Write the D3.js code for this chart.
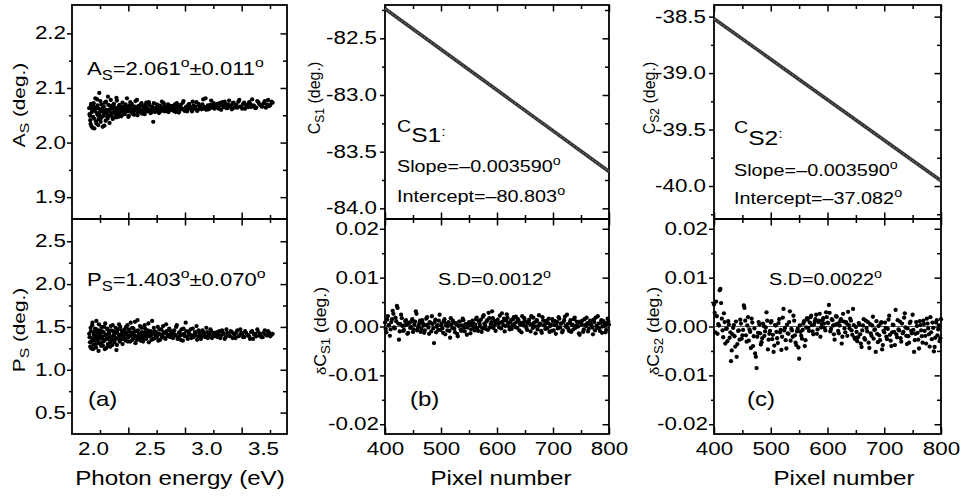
<!DOCTYPE html>
<html><head><meta charset="utf-8">
<script src="https://cdn.jsdelivr.net/npm/d3@7"></script>
<style>
body{margin:0;background:#fff}
svg{display:block}
text{font-family:"Liberation Sans",Arial,Helvetica,sans-serif;fill:#000}
</style>
</head><body>
<svg id="chart" width="961" height="500"></svg>
<script>
// ---------------- DATA ----------------
const photonEnergy = [1.908,1.914,1.920,1.925,1.931,1.938,1.944,1.950,1.956,1.962,1.968,1.975,1.981,1.987,1.994,2.000,2.006,2.013,2.020,2.026,2.033,2.039,2.046,2.053,2.060,2.067,2.074,2.081,2.088,2.095,2.102,2.109,2.116,2.123,2.131,2.138,2.145,2.153,2.160,2.168,2.175,2.183,2.191,2.199,2.206,2.214,2.222,2.230,2.238,2.246,2.255,2.263,2.271,2.279,2.288,2.296,2.305,2.313,2.322,2.331,2.340,2.348,2.357,2.366,2.375,2.385,2.394,2.403,2.412,2.422,2.431,2.441,2.451,2.460,2.470,2.480,2.490,2.500,2.510,2.520,2.531,2.541,2.551,2.562,2.573,2.583,2.594,2.605,2.616,2.627,2.638,2.650,2.661,2.672,2.684,2.696,2.707,2.719,2.731,2.743,2.756,2.768,2.780,2.793,2.805,2.818,2.831,2.844,2.857,2.870,2.884,2.897,2.911,2.925,2.938,2.952,2.967,2.981,2.995,3.010,3.024,3.039,3.054,3.069,3.085,3.100,3.116,3.131,3.147,3.163,3.179,3.196,3.212,3.229,3.246,3.263,3.280,3.298,3.316,3.333,3.351,3.370,3.388,3.407,3.425,3.444,3.464,3.483,3.503,3.523];
const photonEnergyB = [1.905,1.911,1.917,1.922,1.928,1.934,1.941,1.947,1.953,1.959,1.965,1.971,1.978,1.984,1.990,1.997,2.003,2.010,2.016,2.023,2.029,2.036,2.043,2.050,2.056,2.063,2.070,2.077,2.084,2.091,2.098,2.105,2.112,2.120,2.127,2.134,2.142,2.149,2.157,2.164,2.172,2.179,2.187,2.195,2.202,2.210,2.218,2.226,2.234,2.242,2.250,2.259,2.267,2.275,2.284,2.292,2.301,2.309,2.318,2.326,2.335,2.344,2.353,2.362,2.371,2.380,2.389,2.398,2.408,2.417,2.427,2.436,2.446,2.455,2.465,2.475,2.485,2.495,2.505,2.515,2.525,2.536,2.546,2.557,2.567,2.578,2.589,2.600,2.611,2.622,2.633,2.644,2.655,2.667,2.678,2.690,2.702,2.713,2.725,2.737,2.749,2.762,2.774,2.787,2.799,2.812,2.825,2.838,2.851,2.864,2.877,2.890,2.904,2.918,2.931,2.945,2.959,2.974,2.988,3.002,3.017,3.032,3.047,3.062,3.077,3.092,3.108,3.123,3.139,3.155,3.171,3.188,3.204,3.221,3.238,3.255,3.272,3.289,3.307,3.324,3.342,3.360,3.379,3.397,3.416,3.435,3.454,3.473,3.493,3.513];
const asValues = [2.052,2.041,2.068,2.030,2.061,2.047,2.072,2.026,2.058,2.064,2.035,2.079,2.050,2.043,2.091,2.056,2.038,2.070,2.062,2.048,2.066,2.031,2.057,2.075,2.053,2.044,2.069,2.060,2.049,2.078,2.055,2.063,2.046,2.071,2.058,2.052,2.082,2.061,2.047,2.067,2.056,2.064,2.050,2.073,2.059,
2.054,2.066,2.062,2.081,2.057,2.049,2.068,2.060,2.071,2.053,2.064,2.058,2.076,2.061,2.050,2.067,2.063,2.056,2.072,2.059,2.065,2.052,2.069,2.062,2.057,2.074,2.060,2.055,2.066,2.038,2.063,2.058,2.070,2.061,2.054,2.067,2.064,2.059,2.072,2.057,2.062,2.068,2.056,2.065,2.060,
2.063,2.058,2.070,2.061,2.066,2.055,2.068,2.062,2.073,2.059,2.064,2.057,2.069,2.063,2.060,2.075,2.062,2.066,2.058,2.071,2.064,2.061,2.079,2.065,2.060,2.068,2.063,2.077,2.066,2.062,
2.069,2.064,2.072,2.060,2.067,2.075,2.063,2.070,2.066,2.061,2.073,2.068,2.064,2.078,2.066,2.071,2.062,2.069,2.074,2.065,2.068,2.063,2.076,2.070,2.066,2.072,2.064,2.078,2.069,2.073];
const asValuesB = [2.063,2.049,2.034,2.071,2.056,2.027,2.066,2.044,2.059,2.081,2.039,2.054,2.068,2.032,2.062,2.050,2.076,2.045,2.058,2.029,2.065,2.053,2.073,2.040,2.060,2.048,2.084,2.057,2.036,2.067,2.051,2.062,2.043,2.070,2.055,2.064,2.046,2.077,2.058,2.053,2.069,2.061,2.048,2.066,2.057,
2.061,2.052,2.070,2.058,2.065,2.047,2.063,2.074,2.056,2.068,2.060,2.051,2.066,2.062,2.078,2.055,2.064,2.059,2.070,2.053,2.067,2.061,2.057,2.073,2.063,2.058,2.069,2.054,2.065,2.061,2.072,2.056,2.063,2.059,2.068,2.062,2.057,2.075,2.060,2.066,2.063,2.058,2.070,2.061,2.067,
2.060,2.067,2.063,2.056,2.072,2.064,2.059,2.069,2.062,2.076,2.058,2.066,2.061,2.071,2.065,2.057,2.068,2.063,2.074,2.060,2.067,2.064,2.070,2.062,2.081,2.065,2.061,2.069,2.064,2.072,
2.066,2.071,2.062,2.068,2.074,2.065,2.070,2.063,2.077,2.067,2.072,2.064,2.069,2.075,2.066,2.062,2.073,2.068,2.065,2.071,2.079,2.067,2.064,2.074,2.069,2.066,2.076,2.070,2.067,2.075];
const psValues = [1.38,1.27,1.45,1.33,1.52,1.24,1.41,1.36,1.48,1.30,1.57,1.35,1.43,1.22,1.39,1.46,1.31,1.50,1.37,1.28,1.44,1.34,1.54,1.40,1.26,1.47,1.36,1.42,1.32,1.51,1.38,1.29,1.45,1.41,1.35,1.49,1.23,1.43,1.37,1.53,1.33,1.40,1.46,1.30,1.39,
1.44,1.36,1.50,1.41,1.33,1.47,1.39,1.55,1.43,1.35,1.48,1.40,1.31,1.45,1.58,1.38,1.42,1.34,1.49,1.41,1.37,1.52,1.44,1.39,1.46,1.32,1.43,1.40,1.57,1.36,1.45,1.41,1.38,1.50,1.42,1.35,1.47,1.40,1.44,1.37,1.53,1.41,1.39,1.46,1.42,
1.38,1.45,1.41,1.50,1.36,1.43,1.40,1.47,1.34,1.42,1.55,1.39,1.44,1.41,1.37,1.48,1.40,1.43,1.35,1.46,1.41,1.38,1.44,1.40,1.49,1.37,1.42,1.45,1.39,1.43,
1.41,1.38,1.45,1.40,1.43,1.36,1.47,1.41,1.39,1.44,1.42,1.37,1.46,1.40,1.43,1.38,1.45,1.41,1.39,1.44,1.36,1.42,1.47,1.40,1.38,1.43,1.41,1.45,1.39,1.42];
const psValuesB = [1.42,1.32,1.49,1.25,1.37,1.55,1.29,1.44,1.34,1.40,1.26,1.47,1.38,1.31,1.53,1.36,1.42,1.28,1.45,1.39,1.33,1.50,1.24,1.41,1.36,1.48,1.30,1.43,1.38,1.27,1.46,1.35,1.52,1.40,1.32,1.44,1.37,1.29,1.47,1.41,1.34,1.50,1.38,1.43,1.36,
1.40,1.47,1.34,1.43,1.52,1.38,1.45,1.33,1.41,1.49,1.37,1.44,1.56,1.39,1.35,1.46,1.42,1.51,1.38,1.44,1.33,1.40,1.48,1.36,1.43,1.54,1.39,1.45,1.35,1.42,1.49,1.37,1.44,1.40,1.34,1.47,1.41,1.38,1.51,1.43,1.36,1.45,1.40,1.48,1.38,
1.43,1.37,1.46,1.40,1.52,1.38,1.44,1.35,1.41,1.48,1.39,1.45,1.36,1.42,1.47,1.40,1.38,1.44,1.51,1.39,1.43,1.36,1.46,1.41,1.38,1.44,1.40,1.47,1.37,1.42,
1.39,1.44,1.41,1.37,1.46,1.42,1.38,1.43,1.40,1.45,1.37,1.41,1.44,1.39,1.47,1.42,1.38,1.43,1.40,1.36,1.45,1.41,1.39,1.44,1.42,1.38,1.46,1.40,1.43,1.41];
const pixelNumbers = d3.range(400, 800.01, 2.5);
const pixelNumbersB = d3.range(401.25, 800, 2.5);
const dCs1 = [0.0008,-0.0012,0.0021,0.0003,-0.0006,0.0015,0.0026,-0.0004,0.0011,0.0038,-0.0027,0.0005,0.0017,-0.0009,0.0002,0.0013,-0.0015,0.0006,-0.0003,0.0010,-0.0011,
0.0004,0.0031,-0.0008,0.0001,0.0012,-0.0005,0.0007,-0.0013,0.0003,0.0019,-0.0002,0.0009,-0.0010,0.0005,-0.0034,0.0014,0.0000,-0.0007,0.0024,0.0002,
-0.0004,0.0011,-0.0016,0.0006,0.0001,-0.0009,0.0017,-0.0003,0.0008,-0.0012,0.0004,-0.0020,0.0010,-0.0006,0.0002,0.0013,-0.0010,0.0005,-0.0002,0.0009,
-0.0014,0.0003,0.0007,-0.0008,0.0015,-0.0003,0.0011,0.0001,-0.0011,0.0020,0.0006,-0.0005,0.0013,0.0028,-0.0002,0.0009,0.0017,0.0003,-0.0009,0.0012,
0.0005,0.0022,-0.0004,0.0010,0.0016,0.0001,0.0025,0.0007,-0.0006,0.0013,0.0003,0.0019,-0.0001,0.0009,0.0015,-0.0008,0.0006,0.0021,0.0002,0.0011,
-0.0003,0.0008,0.0014,-0.0010,0.0004,0.0018,0.0000,0.0010,-0.0006,0.0023,0.0005,-0.0013,0.0012,0.0002,0.0007,-0.0004,0.0016,0.0001,-0.0009,0.0011,
0.0003,-0.0015,0.0009,0.0019,-0.0002,0.0006,-0.0008,0.0013,0.0001,0.0024,-0.0005,0.0008,-0.0011,0.0004,0.0015,-0.0003,0.0010,0.0000,-0.0017,0.0007,
0.0012,-0.0006,0.0003,0.0018,-0.0010,0.0005,0.0009,-0.0002,0.0014,-0.0008,0.0001,0.0021,-0.0004,0.0007,-0.0013,0.0011,0.0002,-0.0007,0.0016,0.0004];
const dCs1B = [-0.0005,0.0014,0.0002,-0.0019,0.0009,0.0032,-0.0002,0.0018,0.0042,0.0006,-0.0010,0.0024,0.0001,-0.0007,0.0011,0.0004,-0.0013,0.0008,-0.0001,0.0015,
-0.0006,0.0010,0.0026,-0.0003,0.0006,-0.0011,0.0013,0.0002,-0.0008,0.0016,0.0004,-0.0015,0.0007,0.0021,-0.0004,0.0009,-0.0012,0.0003,0.0012,-0.0007,
0.0006,-0.0013,0.0015,0.0002,-0.0008,0.0009,-0.0023,0.0004,0.0012,-0.0005,0.0007,-0.0015,0.0001,0.0010,-0.0009,0.0016,-0.0003,0.0005,-0.0017,0.0003,
0.0008,-0.0006,0.0012,-0.0002,0.0004,0.0018,-0.0009,0.0007,0.0014,-0.0004,0.0023,0.0002,0.0010,-0.0007,0.0017,0.0005,0.0031,-0.0003,0.0011,0.0006,
0.0014,-0.0002,0.0008,0.0027,0.0003,-0.0010,0.0012,0.0018,0.0000,0.0009,-0.0005,0.0015,0.0006,0.0020,-0.0003,0.0011,0.0004,-0.0012,0.0008,0.0017,
0.0002,-0.0007,0.0010,0.0005,0.0021,-0.0003,0.0008,-0.0014,0.0013,0.0001,0.0006,-0.0009,0.0019,0.0003,-0.0005,0.0012,0.0007,-0.0011,0.0004,0.0015,
-0.0008,0.0011,0.0002,-0.0004,0.0016,0.0006,-0.0012,0.0009,0.0020,-0.0001,0.0005,-0.0009,0.0013,0.0003,-0.0006,0.0018,0.0001,0.0008,-0.0014,0.0010,
0.0004,-0.0011,0.0015,0.0001,0.0007,-0.0005,0.0012,0.0003,-0.0016,0.0009,0.0018,-0.0002,0.0006,-0.0009,0.0013,0.0000,0.0008,-0.0012,0.0005,0.0010];
const dCs2 = [0.0045,-0.0012,0.0021,0.0005,0.0074,0.0048,-0.0008,0.0027,-0.0035,-0.0004,0.0011,-0.0023,-0.0071,-0.0016,0.0003,-0.0041,-0.0062,-0.0009,-0.0027,0.0006,-0.0018,
0.0043,0.0012,-0.0031,0.0019,-0.0006,-0.0044,0.0008,-0.0020,-0.0055,-0.0085,-0.0013,0.0004,-0.0037,-0.0024,0.0001,-0.0010,0.0029,-0.0047,-0.0015,0.0008,
-0.0026,-0.0052,0.0003,-0.0011,-0.0034,0.0015,-0.0007,-0.0021,0.0036,-0.0003,-0.0045,-0.0014,0.0009,-0.0029,-0.0008,0.0022,-0.0018,-0.0038,-0.0005,-0.0066,
-0.0011,-0.0025,0.0006,-0.0040,-0.0002,0.0014,-0.0009,0.0019,0.0003,-0.0016,0.0010,0.0024,-0.0006,0.0012,-0.0021,0.0005,0.0017,-0.0003,0.0029,0.0008,
0.0044,-0.0010,0.0015,0.0002,-0.0027,0.0021,0.0006,-0.0014,0.0011,-0.0035,0.0026,-0.0004,0.0009,-0.0019,0.0003,0.0016,-0.0008,0.0036,-0.0023,-0.0001,
-0.0030,0.0007,-0.0016,-0.0042,0.0002,-0.0024,0.0012,-0.0010,-0.0033,0.0005,-0.0019,0.0020,-0.0007,-0.0052,-0.0015,0.0001,-0.0028,0.0009,-0.0038,-0.0012,
-0.0003,-0.0026,0.0014,-0.0017,-0.0040,0.0004,-0.0011,0.0034,-0.0022,-0.0006,0.0010,-0.0031,-0.0014,0.0018,-0.0002,-0.0036,-0.0020,0.0007,-0.0009,0.0024,
-0.0052,-0.0015,0.0001,-0.0027,0.0011,-0.0008,-0.0033,0.0005,-0.0019,0.0016,-0.0004,-0.0041,-0.0012,0.0008,-0.0051,-0.0023,0.0013,-0.0006,-0.0030,0.0015];
const dCs2B = [0.0028,0.0051,-0.0015,0.0002,0.0077,0.0016,-0.0022,0.0009,-0.0005,-0.0030,0.0004,-0.0012,-0.0049,-0.0003,-0.0020,0.0010,-0.0036,-0.0008,0.0014,-0.0025,
-0.0007,0.0038,-0.0018,0.0002,-0.0029,-0.0011,0.0016,-0.0040,-0.0004,-0.0062,-0.0021,0.0009,-0.0014,-0.0032,0.0006,-0.0019,-0.0002,0.0012,-0.0027,-0.0009,
0.0011,-0.0017,-0.0039,0.0002,-0.0024,0.0007,-0.0012,-0.0048,0.0018,-0.0008,-0.0028,0.0004,-0.0015,0.0031,-0.0005,-0.0021,0.0012,-0.0033,-0.0010,-0.0043,
0.0002,-0.0019,-0.0007,0.0011,-0.0028,0.0017,-0.0003,0.0008,0.0022,-0.0010,0.0004,0.0015,-0.0015,0.0009,0.0026,-0.0002,0.0013,0.0006,-0.0008,0.0019,
0.0007,0.0028,-0.0005,0.0013,-0.0016,0.0004,0.0020,-0.0009,0.0002,0.0015,-0.0021,0.0010,-0.0012,0.0006,0.0030,-0.0004,0.0012,-0.0017,0.0003,-0.0026,
-0.0011,-0.0022,0.0004,-0.0035,-0.0008,0.0015,-0.0027,-0.0003,0.0009,-0.0044,-0.0014,0.0002,-0.0025,-0.0006,0.0011,-0.0032,-0.0018,0.0006,-0.0047,-0.0009,
0.0008,-0.0021,-0.0005,0.0022,-0.0029,-0.0012,0.0003,-0.0038,-0.0016,0.0013,-0.0008,-0.0024,0.0006,-0.0011,0.0027,-0.0019,-0.0004,-0.0033,0.0010,-0.0014,
-0.0007,-0.0028,0.0009,-0.0013,-0.0045,0.0003,-0.0020,0.0012,-0.0009,-0.0035,0.0006,-0.0016,0.0019,-0.0026,-0.0003,-0.0042,0.0008,-0.0018,0.0002,-0.0024];
const fitPixels = [400, 800];
const cs1Fit = [-82.239, -83.675];
const cs2Fit = [-38.518, -39.954];
const zeroLine = [0, 0];

// tick values
const asTicks = [1.9, 2.0, 2.1, 2.2], asMinor = [1.95, 2.05, 2.15];
const psTicks = [0.5, 1.0, 1.5, 2.0, 2.5], psMinor = [0.75, 1.25, 1.75, 2.25];
const energyLabelTicks = [2.0, 2.5, 3.0, 3.5], energyLongTicks = [2.25, 2.75, 3.25];
const cs1Ticks = [-84, -83.5, -83, -82.5], cs1Minor = [-83.75, -83.25, -82.75, -82.25];
const cs2Ticks = [-40, -39.5, -39, -38.5], cs2Minor = [-40.25, -39.75, -39.25, -38.75];
const dTicks = [-0.02, -0.01, 0, 0.01, 0.02], dMinor = [-0.015, -0.005, 0.005, 0.015];
const pixelTicks = [400, 500, 600, 700, 800], pixelMinor = [450, 550, 650, 750];

// ---------------- LAYOUT ----------------
const svg = d3.select("#chart");
const loc = d3.formatLocale({decimal: ".", thousands: ",", grouping: [3], currency: ["", ""], minus: "-"});
const f1 = loc.format(".1f"), f2 = loc.format(".2f");
const TOP = 5, MID = 219, BOT = 434;
const SX_TICK = 1.28, SX_TITLE = 1.24;
const DOT_R = 2.15;

function stretchTexts(sel, sx, size, dx) {
  sel.selectAll(".tick text").each(function () {
    const t = d3.select(this);
    const x = +t.attr("x") || 0;
    t.attr("x", (x + (dx || 0)) / sx).attr("transform", `scale(${sx},1)`)
     .attr("font-size", size).attr("font-family", null).attr("fill", "#000");
  });
}

function rich(parent, x, y, parts, size, sx, opts) {
  opts = opts || {};
  const rot = opts.rotate ? " rotate(-90)" : "";
  const t = parent.append("text")
    .attr("transform", `translate(${x},${y})${rot} scale(${sx},1)`)
    .attr("font-size", size)
    .attr("text-anchor", opts.anchor || "start");
  let prev = 0;
  parts.forEach(p => {
    const [str, k, shift] = p;
    t.append("tspan").attr("font-size", size * k).attr("dy", shift - prev).text(str);
    prev = shift;
  });
  return t;
}

function subPanel(o) {
  const g = svg.append("g");
  const {x, y, x0, x1, y0, y1} = o;
  const gl = g.append("g").attr("transform", `translate(${x0},0)`)
    .call(d3.axisLeft(y).tickValues(o.yMajor).tickSize(5).tickPadding(o.pad).tickFormat(o.fmt));
  stretchTexts(gl, SX_TICK, 17.5);
  g.append("g").attr("transform", `translate(${x0},0)`)
    .call(d3.axisLeft(y).tickValues(o.yMinor).tickSize(3).tickFormat(""));
  g.append("g").attr("transform", `translate(${x1},0)`)
    .call(d3.axisLeft(y).tickValues(o.yMajor).tickSize(6.5).tickFormat(""));
  g.append("g").attr("transform", `translate(${x1},0)`)
    .call(d3.axisLeft(y).tickValues(o.yMinor).tickSize(4).tickFormat(""));
  g.append("g").attr("transform", `translate(0,${y0})`)
    .call(d3.axisBottom(x).tickValues(o.xMajor).tickSize(6.5).tickFormat(""));
  g.append("g").attr("transform", `translate(0,${y0})`)
    .call(d3.axisBottom(x).tickValues(o.xMinor).tickSize(4).tickFormat(""));
  g.append("g").attr("transform", `translate(0,${y1})`)
    .call(d3.axisTop(x).tickValues(o.xMajor).tickSize(6.5).tickFormat(""));
  g.append("g").attr("transform", `translate(0,${y1})`)
    .call(d3.axisTop(x).tickValues(o.xMinor).tickSize(4).tickFormat(""));
  if (o.xLabels) {
    const gb = g.append("g").attr("transform", `translate(0,${y1})`)
      .call(d3.axisBottom(x).tickValues(o.xLabels).tickSize(0).tickPadding(9).tickFormat(o.xfmt));
    stretchTexts(gb, SX_TICK, 17.5, o.xLabelDx || 0);
    gb.selectAll(".tick line").remove();
  }
  g.selectAll(".domain").remove();
  g.selectAll(".tick line").attr("stroke", "#000").attr("stroke-width", 1.5);
  g.append("rect").attr("x", x0).attr("y", y0).attr("width", x1 - x0).attr("height", y1 - y0)
    .attr("fill", "none").attr("stroke", "#000").attr("stroke-width", 1.8);
  return g;
}

function dots(xs, ys, xScale, yScale) {
  svg.append("g").selectAll("circle").data(xs).join("circle")
    .attr("cx", d => xScale(d)).attr("cy", (d, i) => yScale(ys[i]))
    .attr("r", DOT_R).attr("fill", "#000");
}

// ---------------- PANEL (a) ----------------
const xE = d3.scaleLinear().domain([1.753, 3.65]).range([72, 287]);
const yA = d3.scaleLinear().domain([1.86, 2.252]).range([MID, TOP]);
const yP = d3.scaleLinear().domain([0.25, 2.76]).range([BOT, MID]);
subPanel({x: xE, y: yA, x0: 72, x1: 287, y0: TOP, y1: MID, yMajor: asTicks, yMinor: asMinor,
  xMajor: energyLongTicks, xMinor: energyLabelTicks, fmt: f1, pad: 1});
subPanel({x: xE, y: yP, x0: 72, x1: 287, y0: MID, y1: BOT, yMajor: psTicks, yMinor: psMinor,
  xMajor: energyLongTicks, xMinor: energyLabelTicks, fmt: f1, pad: 1,
  xLabels: energyLabelTicks, xfmt: f1, xLabelDx: -7});
dots(photonEnergy, asValues, xE, yA);
dots(photonEnergyB, asValuesB, xE, yA);
dots(photonEnergy, psValues, xE, yP);
dots(photonEnergyB, psValuesB, xE, yP);

// ---------------- PANELS (b), (c) ----------------
function pixelColumn(x0, x1, yTop, topTicks, topMinor, fit, resid, residB) {
  const xp = d3.scaleLinear().domain([400, 800]).range([x0, x1]);
  const yD = d3.scaleLinear().domain([-0.022, 0.022]).range([BOT, MID]);
  subPanel({x: xp, y: yTop, x0, x1, y0: TOP, y1: MID, yMajor: topTicks, yMinor: topMinor,
    xMajor: pixelTicks, xMinor: pixelMinor, fmt: f1, pad: 3});
  subPanel({x: xp, y: yD, x0, x1, y0: MID, y1: BOT, yMajor: dTicks, yMinor: dMinor,
    xMajor: pixelTicks, xMinor: pixelMinor, fmt: f2, pad: 1,
    xLabels: pixelTicks, xfmt: d3.format("d")});
  const line = d3.line().x((d, i) => xp(fitPixels[i])).y(d => yTop(d));
  svg.append("path").datum(fit).attr("d", line).attr("fill", "none")
    .attr("stroke", "#333").attr("stroke-width", 3.6);
  svg.append("path").datum(fit).attr("d", line).attr("fill", "none")
    .attr("stroke", "#8c8c8c").attr("stroke-width", 0.8).attr("stroke-dasharray", "2,2");
  const zl = d3.line().x((d, i) => xp(fitPixels[i])).y(d => yD(d));
  svg.append("path").datum(zeroLine).attr("d", zl).attr("fill", "none")
    .attr("stroke", "#555").attr("stroke-width", 1);
  dots(pixelNumbers, resid, xp, yD);
  dots(pixelNumbersB, residB, xp, yD);
}
const yC1 = d3.scaleLinear().domain([-84.094, -82.206]).range([MID, TOP]);
const yC2 = d3.scaleLinear().domain([-40.292, -38.397]).range([MID, TOP]);
pixelColumn(385, 609, yC1, cs1Ticks, cs1Minor, cs1Fit, dCs1, dCs1B);
pixelColumn(714, 941, yC2, cs2Ticks, cs2Minor, cs2Fit, dCs2, dCs2B);

// ---------------- TEXT ----------------
const T = svg.append("g");
rich(T, 87, 75, [["A",1,0],["S",0.75,5],["=2.061",1,0],["o",0.72,-8],["±0.011",1,0],["o",0.72,-8]], 19, 1.16);
rich(T, 87, 286, [["P",1,0],["S",0.75,5],["=1.403",1,0],["o",0.72,-8],["±0.070",1,0],["o",0.72,-8]], 19, 1.16);
rich(T, 88, 406, [["(a)",1,0]], 20, 1.2);
rich(T, 410, 406, [["(b)",1,0]], 20, 1.2);
rich(T, 747, 406, [["(c)",1,0]], 20, 1.2);

rich(T, 397, 141.5, [["C",0.8,-10],["S1",1,0],[":",0.65,-6]], 20.5, 1.2);
rich(T, 397, 172, [["Slope=–0.003590",1,0],["o",0.72,-7]], 16.5, 1.2);
rich(T, 397, 201.5, [["Intercept=–80.803",1,0],["o",0.72,-7]], 16.5, 1.2);
rich(T, 734, 145, [["C",0.8,-12],["S2",1,0],[":",0.65,-7]], 20.5, 1.2);
rich(T, 734, 175.5, [["Slope=–0.003590",1,0],["o",0.72,-7]], 16.5, 1.2);
rich(T, 734, 204, [["Intercept=–37.082",1,0],["o",0.72,-7]], 16.5, 1.2);

rich(T, 438, 285, [["S.D=0.0012",1,0],["o",0.72,-7]], 16.5, 1.2);
rich(T, 769, 285, [["S.D=0.0022",1,0],["o",0.72,-7]], 16.5, 1.2);

rich(T, 180, 485, [["Photon energy (eV)",1,0]], 19.5, SX_TITLE, {anchor: "middle"});
rich(T, 501, 485, [["Pixel number",1,0]], 19.5, SX_TITLE, {anchor: "middle"});
rich(T, 844, 485, [["Pixel number",1,0]], 19.5, SX_TITLE, {anchor: "middle"});

rich(T, 25, 105, [["A",1,0],["S",0.75,4],[" (deg.)",1,0]], 16, 1.3, {rotate: true, anchor: "middle"});
rich(T, 25, 330, [["P",1,0],["S",0.75,4],[" (deg.)",1,0]], 16, 1.3, {rotate: true, anchor: "middle"});
rich(T, 320, 98, [["C",1,0],["S1",0.75,4],[" (deg.)",1,0]], 16, 1.0, {rotate: true, anchor: "middle"});
rich(T, 326, 331, [["δ",0.85,0],["C",1,0],["S1",0.75,4],[" (deg.)",1,0]], 16, 1.1, {rotate: true, anchor: "middle"});
rich(T, 655, 98, [["C",1,0],["S2",0.75,4],[" (deg.)",1,0]], 16, 1.0, {rotate: true, anchor: "middle"});
rich(T, 659, 331, [["δ",0.85,0],["C",1,0],["S2",0.75,4],[" (deg.)",1,0]], 16, 1.1, {rotate: true, anchor: "middle"});
</script>
</body></html>
